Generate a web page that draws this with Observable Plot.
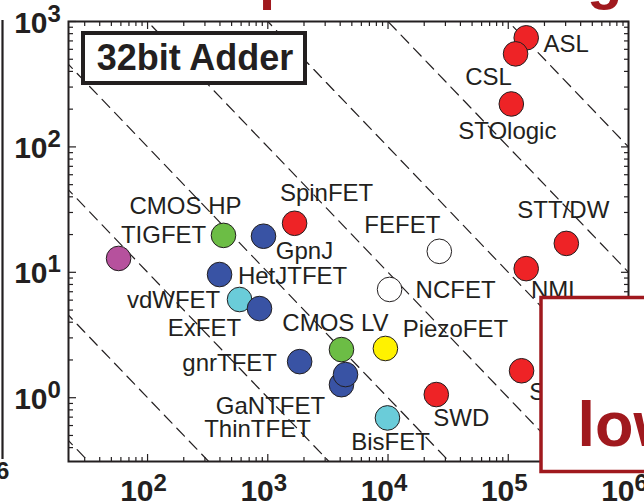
<!DOCTYPE html>
<html>
<head>
<meta charset="utf-8">
<script src="https://cdn.jsdelivr.net/npm/d3@7"></script>
<script src="https://cdn.jsdelivr.net/npm/@observablehq/plot@0.6"></script>
<style>
  html, body { margin: 0; padding: 0; background: #fff; }
  #chart svg { display: block; overflow: hidden; }
</style>
</head>
<body>
<div id="chart"></div>
<script>
// 32-bit adder benchmark: delay (x, ps) against switching energy (y, fJ), log-log.
const devices = ["ASL", "CSL", "STOlogic", "SpinFET", "CMOS HP", "GpnJ", "TIGFET", "HetJTFET",
  "vdWFET", "ExFET", "FEFET", "NCFET", "STT/DW", "NML", "CMOS LV", "PiezoFET", "gnrTFET",
  "ThinTFET", "GaNTFET", "BisFET", "SWD", "SMG"];
const delay = [1.41e5, 1.15e5, 1.06e5, 1670, 428, 921, 57.4, 397,
  582, 853, 26700, 10300, 3.04e5, 1.41e5, 4100, 9510, 1840,
  4100, 4430, 9890, 25200, 1.29e5];
const energy = [741, 552, 220, 24.6, 19.7, 19.4, 12.9, 9.6,
  6.07, 5.14, 14.7, 7.3, 17.0, 10.7, 2.42, 2.47, 1.94,
  1.27, 1.53, 0.69, 1.06, 1.64];
const family = ["spin", "spin", "spin", "spin", "cmos", "tfet", "tigfet", "tfet",
  "charge", "tfet", "ferro", "ferro", "spin", "spin", "cmos", "piezo", "tfet",
  "tfet", "tfet", "charge", "spin", "spin"];

// Constant energy-delay product guide lines (fJ*ps)
const edpLevels = [1e1, 1e2, 1e3, 1e4, 1e5, 1e6, 1e7, 1e8];

// Axis decades
const xTickExponents = [2, 3, 4, 5, 6];
const yTickExponents = [0, 1, 2, 3];

// ---- styling / layout ----
const familyColor = {
  spin: "#ee2326", cmos: "#6cbd45", tfet: "#3953a4", tigfet: "#b6519d",
  charge: "#6accd9", ferro: "#ffffff", piezo: "#fff200"
};
const labelNudge = {
  "ASL": [40, 6], "CSL": [-27, 23], "STOlogic": [-4, 27], "SpinFET": [32, -30],
  "CMOS HP": [-38, -29], "GpnJ": [41, 15], "TIGFET": [45, -23], "HetJTFET": [73, 2],
  "vdWFET": [-66, 1], "ExFET": [-55, 20], "FEFET": [-37, -26], "NCFET": [66, 1],
  "STT/DW": [-3, -33], "NML": [30, 22], "CMOS LV": [-6, -26], "PiezoFET": [70, -19],
  "gnrTFET": [-70, 2], "GaNTFET": [-75, 32], "ThinTFET": [-84, 45], "BisFET": [3, 24],
  "SWD": [25, 24], "SMG": [35, 22]
};
const ink = "#231f20";
const darkRed = "#a0191e";
const font = "'Liberation Sans', Arial, Helvetica, sans-serif";

const xDomain = [22, 1e6];
const yDomain = [0.31, 1000];

const points = devices.map((name, i) => ({name, delay: delay[i], energy: energy[i], family: family[i]}));

const edpLines = edpLevels.flatMap(level => [10, 1e7].map(x => ({level, x, y: level / x})));

const minorTicks = (lo, hi) => {
  const out = [];
  for (let e = Math.floor(Math.log10(lo)); e <= Math.ceil(Math.log10(hi)); e++)
    for (let m = 2; m <= 9; m++) {
      const v = m * 10 ** e;
      if (v >= lo && v <= hi) out.push(v);
    }
  return out;
};
const xMajor = xTickExponents.map(e => 10 ** e);
const yMajor = yTickExponents.map(e => 10 ** e);
const xMinor = minorTicks(...xDomain);
const yMinor = minorTicks(...yDomain);

const tickStyle = {stroke: ink, strokeWidth: 1.2, tickFormat: () => "", label: null};

const labelMarks = points.map(p => {
  const [dx, dy] = labelNudge[p.name];
  return Plot.text([p], {
    x: "delay", y: "energy", text: "name", dx, dy,
    fontSize: 24, fill: ink, textAnchor: "middle"
  });
});

const plot = Plot.plot({
  width: 644,
  height: 503,
  marginLeft: 68,
  marginRight: 16,
  marginTop: 21,
  marginBottom: 42,
  style: {fontFamily: font, background: "#fff", overflow: "hidden"},
  x: {type: "log", domain: xDomain, axis: null, label: null},
  y: {type: "log", domain: yDomain, axis: null, label: null},
  marks: [
    Plot.line(edpLines, {
      x: "x", y: "y", z: "level", stroke: ink, strokeWidth: 1.2,
      strokeDasharray: "11,7", clip: true
    }),
    Plot.axisX(xMajor, {anchor: "bottom", tickSize: -7, ...tickStyle}),
    Plot.axisX(xMajor, {anchor: "top", tickSize: -7, ...tickStyle}),
    Plot.axisX(xMinor, {anchor: "bottom", tickSize: -4, ...tickStyle}),
    Plot.axisX(xMinor, {anchor: "top", tickSize: -4, ...tickStyle}),
    Plot.axisY(yMajor, {anchor: "left", tickSize: -8, ...tickStyle}),
    Plot.axisY(yMajor, {anchor: "right", tickSize: -8, ...tickStyle}),
    Plot.axisY(yMinor, {anchor: "left", tickSize: -5, ...tickStyle}),
    Plot.axisY(yMinor, {anchor: "right", tickSize: -5, ...tickStyle}),
    Plot.frame({stroke: ink, strokeWidth: 2}),
    // tick labels written as 10 with a raised exponent
    Plot.text(xTickExponents, {
      x: e => 10 ** e, text: () => "10", frameAnchor: "bottom",
      textAnchor: "end", lineAnchor: "bottom", dx: 6, dy: 39,
      fontSize: 30, fontWeight: "bold", fill: ink
    }),
    Plot.text(xTickExponents, {
      x: e => 10 ** e, text: e => String(e), frameAnchor: "bottom",
      textAnchor: "start", lineAnchor: "bottom", dx: 6, dy: 29,
      fontSize: 24, fontWeight: "bold", fill: ink
    }),
    Plot.text(yTickExponents, {
      y: e => 10 ** e, text: () => "10", frameAnchor: "left",
      textAnchor: "end", lineAnchor: "bottom", dx: -21, dy: 11,
      fontSize: 30, fontWeight: "bold", fill: ink
    }),
    Plot.text(yTickExponents, {
      y: e => 10 ** e, text: e => String(e), frameAnchor: "left",
      textAnchor: "start", lineAnchor: "bottom", dx: -21, dy: 0,
      fontSize: 24, fontWeight: "bold", fill: ink
    }),
    Plot.dot(points, {
      x: "delay", y: "energy", r: 12.3,
      fill: d => familyColor[d.family], stroke: ink, strokeWidth: 1
    }),
    ...labelMarks
  ]
});

document.getElementById("chart").append(plot);
const svg = d3.select(plot);

// Neighbouring panel edge and its last tick label
svg.append("line").attr("x1", 2.5).attr("x2", 2.5).attr("y1", 20).attr("y2", 459)
  .attr("stroke", ink).attr("stroke-width", 2.2);
const edgeLabel = svg.append("text").attr("font-family", font).attr("font-weight", "bold")
  .attr("fill", ink).attr("text-anchor", "start");
edgeLabel.append("tspan").attr("x", -38).attr("y", 489).attr("font-size", 30).text("10");
edgeLabel.append("tspan").attr("x", -4).attr("y", 479).attr("font-size", 24).text("6");

// Slide heading (only its descenders fall inside the view)
const heading = svg.append("text")
  .attr("x", 0).attr("y", -2).attr("text-anchor", "start")
  .attr("font-family", font).attr("font-weight", "bold").attr("font-size", 58)
  .attr("fill", darkRed)
  .text("Speed of Logic Circuits");
{
  const node = heading.node();
  const s = heading.text();
  const ip = s.indexOf("p"), ig = s.indexOf("g");
  const natural = node.getStartPositionOfChar(ig).x - node.getStartPositionOfChar(ip).x;
  const spacing = (587 - 259 - natural) / (ig - ip);
  heading.attr("letter-spacing", spacing);
  const px = node.getStartPositionOfChar(ip).x;
  heading.attr("x", 259 - px);
}

// Panel tag
svg.append("rect").attr("x", 83).attr("y", 33).attr("width", 222).attr("height", 50)
  .attr("fill", "#fff").attr("stroke", ink).attr("stroke-width", 4);
svg.append("text").attr("x", 195).attr("y", 70).attr("text-anchor", "middle")
  .attr("font-family", font).attr("font-weight", "bold").attr("font-size", 36)
  .attr("fill", ink).text("32bit Adder");

// Call-out box in the lower right
svg.append("rect").attr("x", 541).attr("y", 297.5).attr("width", 140).attr("height", 174)
  .attr("fill", "#fff").attr("stroke", darkRed).attr("stroke-width", 3.5);
svg.append("text").attr("x", 577.5).attr("y", 446).attr("text-anchor", "start")
  .attr("font-family", font).attr("font-weight", "bold").attr("font-size", 63)
  .attr("fill", darkRed).text("lower energy");
</script>
</body>
</html>
